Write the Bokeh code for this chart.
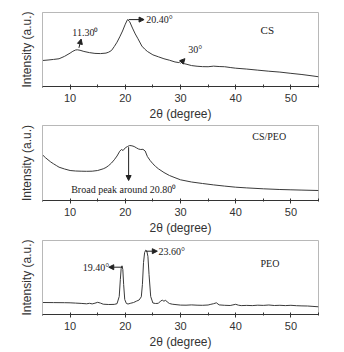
from bokeh.plotting import figure
from bokeh.layouts import column
from bokeh.models import FixedTicker, Arrow, NormalHead, Label
from bokeh.embed import file_html
from bokeh.resources import INLINE

# ---- data (2theta in degrees, intensity in arbitrary units) ----
cs_x = [5, 6, 7, 8, 9, 10, 10.5, 11, 11.3, 11.8, 12.5, 13.5, 14.5, 15.5, 16.5, 17, 17.5, 18, 18.5, 19,
        19.5, 20, 20.4, 20.8, 21.3, 21.8, 22.3, 23, 23.5, 24, 25, 26, 27, 28, 29, 29.7, 30, 30.3, 31, 32,
        33, 34, 35, 36, 37, 38, 39, 40, 42, 44, 46, 48, 50, 52, 54, 55]
cs_y = [26.7, 27.2, 27.8, 28.5, 31, 34.3, 36.2, 37.5, 37.7, 37.2, 36, 34.8, 34, 33.8, 34.3, 35.3, 37, 41, 45.5, 51,
        57, 64, 68.7, 66.5, 60, 54, 49, 41.5, 38.5, 36, 32.5, 30.5, 28.5, 27, 25.2, 24.6, 25.8, 23.9, 23, 21.5,
        20.8, 20.4, 20.3, 20.9, 20.5, 20.3, 19.5, 18.8, 17.9, 16.8, 15.7, 14.8, 13.5, 12.3, 10.8, 10]

blend_x = [5, 5.5, 6, 6.5, 7, 7.5, 8, 9, 10, 11, 12, 13, 14, 15, 16, 16.5, 17, 17.5, 18, 18.5,
           19, 19.3, 19.6, 20, 20.4, 20.8, 21.2, 21.6, 22, 22.4, 22.8, 23.2, 23.6, 24, 24.5, 25, 25.5, 26, 27, 28,
           29, 30, 32, 34, 36, 38, 40, 42, 45, 48, 50, 52, 55]
blend_y = [45.7, 43, 40.7, 38.5, 36.7, 35, 33.3, 31.5, 30, 29.5, 29.3, 29.2, 29.3, 30, 31.7, 33, 35, 37.5, 40.7, 44.5,
           49.3, 51, 50, 52.7, 54, 55, 54.7, 54, 52.7, 51.5, 51, 51.2, 49.5, 44, 40, 36.7, 34, 31.7, 28, 25,
           22.8, 20.7, 18.5, 17, 15.6, 14.4, 13.3, 12.6, 11.7, 11, 10.7, 10.4, 10]

peo_x = [5, 7, 9, 10, 11, 12, 13, 13.5, 14, 14.5, 15, 15.5, 16, 17, 18, 18.5, 18.9, 19.1, 19.25, 19.4,
         19.55, 19.7, 19.9, 20.2, 20.5, 21, 21.5, 22, 22.5, 22.9, 23.1, 23.3, 23.5, 23.7, 23.9, 24.1, 24.3, 24.6, 25, 25.5,
         26, 26.4, 26.7, 27, 27.3, 27.6, 28, 28.5, 29, 30, 31, 32, 33, 34, 35, 35.5, 36, 36.5, 37, 38,
         39, 39.5, 40, 40.5, 41, 42, 43, 44, 45, 46, 47, 48, 49, 50, 51, 52, 53, 54, 55]
peo_y = [12, 11.9, 11.8, 11.7, 11.4, 11.1, 10.7, 11.2, 10.6, 11.3, 12.2, 11.4, 10.3, 10, 10.1, 10.8, 18, 35, 46, 48.7,
         45, 30, 15, 11, 10.5, 11.3, 12, 13.3, 14.5, 17.7, 30, 52, 62, 64.3, 63.5, 58, 40, 18, 11.5, 11,
         11.2, 13.5, 14.3, 13.3, 14.3, 12.5, 11, 10.3, 10, 9.4, 9.3, 9.6, 9.3, 9.2, 9.5, 10.2, 10.8, 11.7, 9.6, 9.2,
         9, 9.6, 10.2, 9.3, 8.9, 9.1, 8.9, 9.3, 9.1, 9.5, 9.0, 9.2, 8.9, 9.2, 8.8, 8.6, 8.5, 8.1, 7.7]

x_ticks = [10, 20, 30, 40, 50]
x_minor = [5, 15, 25, 35, 45, 55]

SERIF = "Liberation Serif"
SANS = "Liberation Sans"
TXT = "#333333"


def make_panel(height, top, bottom, ymax, xs, ys):
    p = figure(width=344, height=height, x_range=(5, 55), y_range=(0, ymax),
               output_backend="svg", toolbar_location=None,
               min_border_left=42, min_border_right=26,
               min_border_top=top, min_border_bottom=bottom)
    p.line(xs, ys, line_color="#3a3a3a", line_width=1)
    p.grid.visible = False
    p.outline_line_color = "#b8b8b8"
    p.outline_line_width = 1
    p.background_fill_color = "white"
    p.border_fill_color = "white"

    xa = p.xaxis[0]
    xa.ticker = FixedTicker(ticks=x_ticks, minor_ticks=x_minor)
    xa.axis_line_color = "#333333"
    xa.major_tick_line_color = "#333333"
    xa.minor_tick_line_color = "#333333"
    xa.major_tick_in = 2
    xa.major_tick_out = 3
    xa.minor_tick_in = 2
    xa.minor_tick_out = 1
    xa.major_label_standoff = 4
    xa.major_label_text_font = SANS
    xa.major_label_text_font_size = "11px"
    xa.major_label_text_color = TXT
    xa.axis_label = "2θ (degree)"
    xa.axis_label_text_font = SANS
    xa.axis_label_text_font_size = "12px"
    xa.axis_label_text_font_style = "normal"
    xa.axis_label_text_color = TXT
    xa.axis_label_standoff = 2

    ya = p.yaxis[0]
    ya.ticker = FixedTicker(ticks=[])
    ya.axis_line_color = "#b8b8b8"
    ya.major_tick_line_color = None
    ya.minor_tick_line_color = None
    ya.major_label_text_font_size = "0px"
    ya.axis_label = "Intensity (a.u.)"
    ya.axis_label_text_font = SANS
    ya.axis_label_text_font_size = "12px"
    ya.axis_label_text_font_style = "normal"
    ya.axis_label_text_color = TXT
    ya.axis_label_standoff = 9
    return p


def label(p, x, y, text, size="10px", align="left"):
    p.add_layout(Label(x=x, y=y, text=text, text_font=SERIF, text_font_size=size,
                       text_color="#222222", text_baseline="middle", text_align=align))


def arrow(p, x0, y0, x1, y1):
    p.add_layout(Arrow(end=NormalHead(size=5, fill_color="#222222", line_color="#222222"),
                       x_start=x0, y_start=y0, x_end=x1, y_end=y1,
                       line_color="#222222", line_width=1))


# Panel 1: CS
p1 = make_panel(123, 12, 35, 76, cs_x, cs_y)
label(p1, 10.4, 55.7, "11.30⁰")
arrow(p1, 11.6, 39.7, 12.0, 48.7)
arrow(p1, 20.6, 68.7, 23.4, 68.7)
label(p1, 23.8, 68.7, "20.40°")
arrow(p1, 30.0, 23.7, 30.8, 28.6)
label(p1, 31.4, 37.7, "30°")
label(p1, 44.5, 57.7, "CS", size="11px")

# Panel 2: CS/PEO
p2 = make_panel(115, 2, 38, 75, blend_x, blend_y)
arrow(p2, 20.6, 53.3, 20.6, 20.0)
label(p2, 10.2, 11.0, "Broad peak around 20.80⁰")
label(p2, 43.0, 64.0, "CS/PEO")

# Panel 3: PEO
p3 = make_panel(114, 2, 38, 74, peo_x, peo_y)
arrow(p3, 19.5, 47.3, 17.0, 47.3)
label(p3, 12.3, 47.3, "19.40°")
arrow(p3, 23.7, 63.3, 25.8, 63.3)
label(p3, 26.0, 63.3, "23.60°")
label(p3, 44.5, 51.3, "PEO")

layout = column(p1, p2, p3, spacing=0)
open("out.html", "w").write(file_html(layout, INLINE))
